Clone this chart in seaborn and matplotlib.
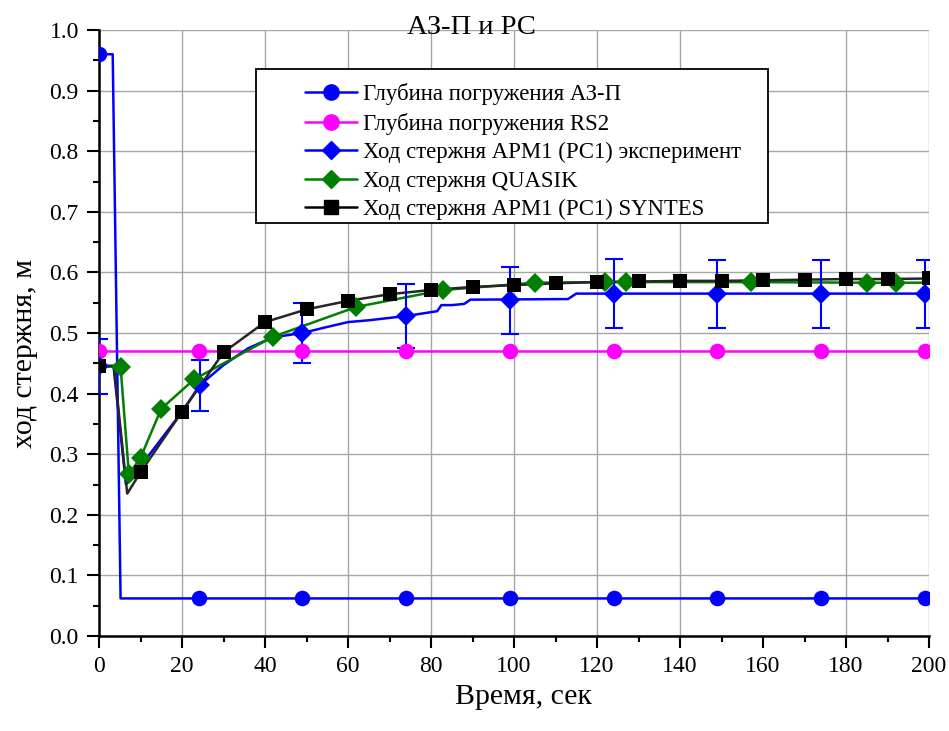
import matplotlib
matplotlib.use('Agg')
import matplotlib.pyplot as plt
import seaborn as sns
from matplotlib.lines import Line2D
from matplotlib.patches import Rectangle
from matplotlib.ticker import MultipleLocator, FormatStrFormatter

# ---------------- data ----------------
# АЗ-П immersion depth
az_t = [0, 3.3, 5.2, 200]
az_y = [0.96, 0.96, 0.062, 0.062]
az_mark_t = [0, 24, 49, 74, 99, 124, 149, 174, 199]
az_mark_y = [0.96, 0.062, 0.062, 0.062, 0.062, 0.062, 0.062, 0.062, 0.062]

# RS2 immersion depth
rs_t = [0, 200]
rs_y = [0.47, 0.47]
rs_mark_t = [0, 24, 49, 74, 99, 124, 149, 174, 199]
rs_mark_y = [0.47, 0.47, 0.47, 0.47, 0.47, 0.47, 0.47, 0.47, 0.47]

# АРМ1 (РС1) experiment
exp_t = [0, 3.5, 6.5, 10, 15, 20, 24.3, 30, 36, 42, 49, 55, 60, 65, 74,
         81.5, 82.5, 85, 88, 89.5, 113, 115, 200]
exp_y = [0.445, 0.445, 0.25, 0.28, 0.325, 0.37, 0.414, 0.447, 0.475, 0.493, 0.50,
         0.51, 0.518, 0.521, 0.528, 0.536, 0.546, 0.546, 0.548, 0.555, 0.556, 0.565, 0.565]
exp_mark_t = [0, 24.3, 49, 74, 99, 124, 149, 174, 199]
exp_mark_y = [0.445, 0.414, 0.50, 0.528, 0.554, 0.565, 0.565, 0.565, 0.565]
exp_err = [0.045, 0.042, 0.05, 0.053, 0.055, 0.057, 0.056, 0.056, 0.056]

# QUASIK
qu_t = [0, 5.2, 7.2, 10, 15, 23, 42, 62, 83, 105, 122, 127, 157, 185, 192, 200]
qu_y = [0.445, 0.444, 0.267, 0.294, 0.375, 0.424, 0.494, 0.543, 0.571, 0.583,
        0.584, 0.584, 0.584, 0.583, 0.583, 0.583]
qu_mark_t = [5.2, 7.2, 10, 15, 23, 42, 62, 83, 105, 122, 127, 157, 185, 192]
qu_mark_y = [0.444, 0.267, 0.294, 0.375, 0.424, 0.494, 0.543, 0.571, 0.583,
             0.584, 0.584, 0.584, 0.583, 0.583]

# SYNTES
sy_t = [0, 3.6, 6.8, 10, 20, 30, 40, 50, 60, 70, 80, 90, 100, 110, 120, 130,
        140, 150, 160, 170, 180, 190, 200]
sy_y = [0.446, 0.446, 0.235, 0.27, 0.37, 0.468, 0.518, 0.539, 0.553, 0.564, 0.571,
        0.576, 0.579, 0.582, 0.584, 0.585, 0.586, 0.586, 0.587, 0.588, 0.589, 0.589, 0.59]
sy_mark_t = [0, 10, 20, 30, 40, 50, 60, 70, 80, 90, 100, 110, 120, 130,
             140, 150, 160, 170, 180, 190, 200]
sy_mark_y = [0.446, 0.27, 0.37, 0.468, 0.518, 0.539, 0.553, 0.564, 0.571,
             0.576, 0.579, 0.582, 0.584, 0.585, 0.586, 0.586, 0.587, 0.588, 0.589, 0.589, 0.59]

labels = ["Глубина погружения АЗ-П",
          "Глубина погружения RS2",
          "Ход стержня АРМ1 (РС1) эксперимент",
          "Ход стержня QUASIK",
          "Ход стержня АРМ1 (РС1) SYNTES"]

title = "АЗ-П и РС"
xlabel = "Время, сек"
ylabel = "ход стержня, м"

# ---------------- style ----------------
sns.set_theme(style='white')
plt.rcParams['font.family'] = ['Liberation Serif', 'DejaVu Serif']

BLUE = '#0000FF'
MAG = '#FF00FF'
GREEN = '#007F00'
BLACK = '#000000'
LW = 1.8

fig = plt.figure(figsize=(9.49, 7.31), dpi=100)
ax = fig.add_axes([99 / 949, 1 - 636 / 731, 830 / 949, 606 / 731])

# lines
line_kw = dict(ax=ax, linewidth=LW, estimator=None, sort=False, zorder=3)
sns.lineplot(x=rs_t, y=rs_y, color=MAG, **line_kw)
sns.lineplot(x=az_t, y=az_y, color=BLUE, **line_kw)
sns.lineplot(x=exp_t, y=exp_y, color=BLUE, **line_kw)
sns.lineplot(x=qu_t, y=qu_y, color=GREEN, **line_kw)
sns.lineplot(x=sy_t, y=sy_y, color='#262626', **line_kw)

# error bars
ax.errorbar(exp_mark_t, exp_mark_y, yerr=exp_err, fmt='none', ecolor=BLUE,
            elinewidth=1.5, capsize=6.5, capthick=1.5, zorder=3.5)

# markers (marker-only lines so they are clipped at the axes edge)
def markers(x, y, color, marker, ms, z):
    sns.lineplot(x=x, y=y, ax=ax, color=color, marker=marker, markersize=ms,
                 markeredgewidth=0, linestyle='', estimator=None, sort=False, zorder=z)

markers(rs_mark_t, rs_mark_y, MAG, 'o', 11.2, 4)
markers(az_mark_t, az_mark_y, BLUE, 'o', 11.2, 4)
markers(exp_mark_t, exp_mark_y, BLUE, 'D', 10, 4)
markers(qu_mark_t, qu_mark_y, GREEN, 'D', 10, 4.2)
markers(sy_mark_t, sy_mark_y, BLACK, 's', 9.7, 4.4)

# axes
ax.set_xlim(0, 200)
ax.set_ylim(0, 1.0)
ax.xaxis.set_major_locator(MultipleLocator(20))
ax.xaxis.set_minor_locator(MultipleLocator(10))
ax.yaxis.set_major_locator(MultipleLocator(0.1))
ax.yaxis.set_minor_locator(MultipleLocator(0.05))
ax.yaxis.set_major_formatter(FormatStrFormatter('%.1f'))
ax.xaxis.set_major_formatter(FormatStrFormatter('%d'))

ax.grid(True, which='major', color='#a6a6a6', linewidth=1.0, zorder=0)
ax.set_axisbelow(True)
for tk in ax.yaxis.get_major_ticks():
    if abs(tk.get_loc() - 1.0) < 1e-9:
        tk.gridline.set_visible(False)
for tk in ax.xaxis.get_major_ticks():
    if abs(tk.get_loc() - 200) < 1e-9:
        tk.gridline.set_visible(False)

for s in ['top', 'right']:
    ax.spines[s].set_visible(False)
for s in ['left', 'bottom']:
    ax.spines[s].set_color('black')
    ax.spines[s].set_linewidth(1.8)

ax.tick_params(which='both', direction='out', bottom=True, left=True,
               top=False, right=False, colors='black')
ax.tick_params(which='major', length=8.5, width=1.5, labelsize=17, pad=6)
ax.tick_params(which='minor', length=4.5, width=1.5)

ax.set_xlabel(xlabel, fontsize=21.5, color='black')
ax.set_ylabel(ylabel, fontsize=21.5, color='black')
ax.xaxis.label.set_va('center')
ax.yaxis.label.set_va('center')
ax.xaxis.set_label_coords((523 - 99) / 830, (636 - 697) / 606)
ax.yaxis.set_label_coords((25 - 99) / 830, (636 - 353) / 606)

fig.text(471 / 949, 1 - 27 / 731, title, ha='center', va='center', fontsize=20.5, color='black')

# legend frame + legend
ax.add_patch(Rectangle(((256 - 99) / 830, (636 - 223) / 606), (768 - 256) / 830, (223 - 69) / 606,
                       transform=ax.transAxes, facecolor='white', edgecolor='black',
                       linewidth=1.3, zorder=5, clip_on=False))
handles = [
    Line2D([], [], color=BLUE, lw=LW, marker='o', markersize=11),
    Line2D([], [], color=MAG, lw=LW, marker='o', markersize=11),
    Line2D([], [], color=BLUE, lw=LW, marker='D', markersize=9.5),
    Line2D([], [], color=GREEN, lw=LW, marker='D', markersize=9.5),
    Line2D([], [], color=BLACK, lw=LW, marker='s', markersize=9.5),
]
leg = ax.legend(handles, labels, loc='upper left', frameon=False,
                bbox_to_anchor=((305 - 99) / 830, (636 - 83) / 606),
                borderpad=0, borderaxespad=0, fontsize=16.4, handlelength=2.28,
                handletextpad=0.26, labelspacing=0.33)
leg.set_zorder(6)
for t in leg.get_texts():
    t.set_color('black')

fig.savefig('out.png', dpi=100)
